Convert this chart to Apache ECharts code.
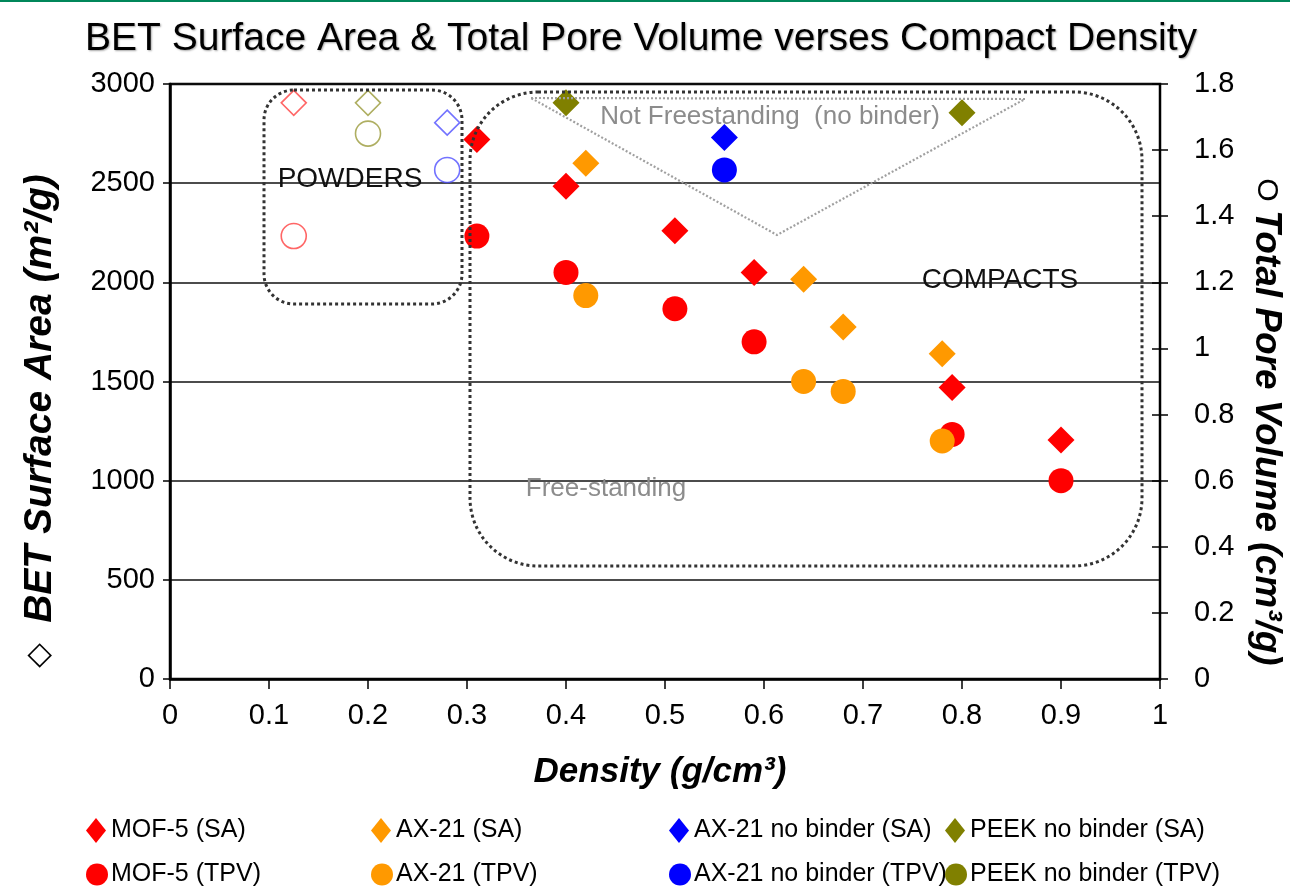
<!DOCTYPE html>
<html><head><meta charset="utf-8">
<script src="https://cdn.jsdelivr.net/npm/echarts@6/dist/echarts.min.js"></script>
<style>html,body{margin:0;padding:0;background:#fff}#c{width:1290px;height:889px}</style>
</head><body><div id="c"></div>
<script>
// ---- data ----
const titleText = 'BET Surface Area & Total Pore Volume verses Compact Density';

const mof5Density = [0.31, 0.40, 0.51, 0.59, 0.79, 0.90];
const mof5SA      = [2720, 2485, 2260, 2050, 1470, 1205];
const mof5TPV     = [1.34, 1.23, 1.12, 1.02, 0.74, 0.60];

const ax21Density = [0.42, 0.64, 0.68, 0.78];
const ax21SA      = [2600, 2015, 1775, 1640];
const ax21TPV     = [1.16, 0.90, 0.87, 0.72];

const ax21NbDensity = [0.56];
const ax21NbSA      = [2730];
const ax21NbTPV     = [1.54];

const peekNbDensity = [0.40, 0.80];
const peekNbSA      = [2905, 2855];
const peekNbTPVDensity = [];
const peekNbTPV     = [];

// powders (hollow markers)
const powderDensity = [0.125, 0.20, 0.28];
const powderSA      = [2905, 2905, 2805];
const powderTPV     = [1.34, 1.65, 1.54];

const legendNames = [
  ['MOF-5 (SA)', 'MOF-5 (TPV)'],
  ['AX-21 (SA)', 'AX-21 (TPV)'],
  ['AX-21 no binder (SA)', 'AX-21 no binder (TPV)'],
  ['PEEK no binder (SA)', 'PEEK no binder (TPV)']
];
const seriesColors = ['#ff0000', '#ff9900', '#0000ff', '#808000'];
const powderStroke = ['#ff4040', '#9a9a3a', '#5050ff'];

// ---- build ----
const zip = (xs, ys) => xs.map((x, i) => [x, ys[i]]);
const FONT = '"Liberation Sans", Arial, sans-serif';

function sa(name, xs, ys, color) {
  return { name, type: 'scatter', yAxisIndex: 0, symbol: 'diamond', symbolSize: 27,
    itemStyle: { color, opacity: 1 }, data: zip(xs, ys), z: 3 };
}
function tpv(name, xs, ys, color) {
  return { name, type: 'scatter', yAxisIndex: 1, symbol: 'circle', symbolSize: 25,
    itemStyle: { color, opacity: 1 }, data: zip(xs, ys), z: 3 };
}

const series = [
  sa(legendNames[0][0], mof5Density, mof5SA, seriesColors[0]),
  tpv(legendNames[0][1], mof5Density, mof5TPV, seriesColors[0]),
  sa(legendNames[1][0], ax21Density, ax21SA, seriesColors[1]),
  tpv(legendNames[1][1], ax21Density, ax21TPV, seriesColors[1]),
  sa(legendNames[2][0], ax21NbDensity, ax21NbSA, seriesColors[2]),
  tpv(legendNames[2][1], ax21NbDensity, ax21NbTPV, seriesColors[2]),
  sa(legendNames[3][0], peekNbDensity, peekNbSA, seriesColors[3]),
  tpv(legendNames[3][1], peekNbTPVDensity, peekNbTPV, seriesColors[3])
];
powderDensity.forEach((d, i) => {
  series.push({ name: 'powder SA ' + i, type: 'scatter', yAxisIndex: 0, symbol: 'diamond', symbolSize: 25,
    itemStyle: { color: 'rgba(255,255,255,0)', borderColor: powderStroke[i], borderWidth: 1.6 },
    data: [[d, powderSA[i]]], z: 3 });
  series.push({ name: 'powder TPV ' + i, type: 'scatter', yAxisIndex: 1, symbol: 'circle', symbolSize: 25,
    itemStyle: { color: 'rgba(255,255,255,0)', borderColor: powderStroke[i], borderWidth: 1.6 },
    data: [[d, powderTPV[i]]], z: 3 });
});

const legendLefts = [86, 371, 669, 945];
const legendTops = [818, 862];
const legends = [];
legendNames.forEach((names, i) => {
  names.forEach((nm, r) => {
    legends.push({
      data: [{ name: nm, icon: r === 0 ? 'diamond' : 'circle' }],
      left: legendLefts[i], top: legendTops[r],
      itemWidth: r === 0 ? 20 : 22, itemHeight: r === 0 ? 25 : 22, padding: 0,
      textStyle: { fontFamily: FONT, fontSize: 25, color: '#000', padding: [0, 0, 0, r === 0 ? 0 : -2] }
    });
  });
});

const chart = echarts.init(document.getElementById('c'), null, { renderer: 'canvas' });
const axisLine = (w) => ({ show: true, lineStyle: { color: '#000', width: w } });
const labelStyle = { fontFamily: FONT, fontSize: 29, color: '#000' };

chart.setOption({
  backgroundColor: '#fff',
  animation: false,
  title: { text: titleText, left: 80, top: 15,
    textStyle: { fontFamily: FONT, fontSize: 39, fontWeight: 'normal', color: '#000',
      textShadowColor: 'rgba(0,0,0,0.35)', textShadowBlur: 2, textShadowOffsetX: 1, textShadowOffsetY: 1 } },
  legend: legends,
  grid: { left: 170, right: 130, top: 84, bottom: 210, show: true, borderColor: '#000', borderWidth: 2.5 },
  xAxis: { type: 'value', min: 0, max: 1, interval: 0.1,
    axisLine: axisLine(2.5), axisTick: { show: true, length: 10, lineStyle: { color: '#000', width: 1.5 } },
    axisLabel: Object.assign({ margin: 22, formatter: v => String(+v.toFixed(1)) }, labelStyle),
    splitLine: { show: false } },
  yAxis: [
    { type: 'value', min: 0, max: 3000, interval: 500, position: 'left',
      axisLine: axisLine(2.5), axisTick: { show: true, length: 7, lineStyle: { color: '#000', width: 1.5 } },
      axisLabel: Object.assign({ margin: 15, formatter: v => String(v) }, labelStyle),
      splitLine: { show: true, lineStyle: { color: '#111', width: 1.5 } } },
    { type: 'value', min: 0, max: 1.8, interval: 0.2, position: 'right',
      axisLine: axisLine(1.5), axisTick: { show: true, length: 8, lineStyle: { color: '#000', width: 1.5 } },
      axisLabel: Object.assign({ margin: 34, formatter: v => String(+v.toFixed(1)) }, labelStyle),
      splitLine: { show: false } },
    { type: 'value', min: 0, max: 1.8, interval: 0.2, position: 'right',
      axisLine: axisLine(1.5), axisTick: { show: true, inside: true, length: 8, lineStyle: { color: '#000', width: 1.5 } },
      axisLabel: { show: false }, splitLine: { show: false } }
  ],
  series,
  graphic: [
    { type: 'rect', shape: { x: 0, y: 0, width: 1290, height: 2 }, style: { fill: '#00875a' }, z: 100 },
    // POWDERS box
    { type: 'rect', shape: { x: 264, y: 90, width: 198, height: 214, r: 30 },
      style: { fill: null, stroke: '#333', lineWidth: 3, lineDash: [3, 3] }, z: 100 },
    // COMPACTS box
    { type: 'rect', shape: { x: 470, y: 92, width: 672, height: 474, r: 68 },
      style: { fill: null, stroke: '#333', lineWidth: 3, lineDash: [3, 3] }, z: 100 },
    // not freestanding triangle
    { type: 'polygon', shape: { points: [[531, 98], [1025, 99], [777, 235]] },
      style: { fill: null, stroke: '#a0a0a0', lineWidth: 2.2, lineDash: [2, 2] }, z: 100 },
    { type: 'text', x: 770, y: 117, z: 101,
      style: { text: 'Not Freestanding  (no binder)', font: '26px ' + FONT, fill: '#8c8c8c', align: 'center', verticalAlign: 'middle' } },
    { type: 'text', x: 350, y: 179, z: 101,
      style: { text: 'POWDERS', font: '28px ' + FONT, fill: '#111', align: 'center', verticalAlign: 'middle' } },
    { type: 'text', x: 1000, y: 280, z: 101,
      style: { text: 'COMPACTS', font: '28px ' + FONT, fill: '#111', align: 'center', verticalAlign: 'middle' } },
    { type: 'text', x: 606, y: 489, z: 101,
      style: { text: 'Free-standing', font: '26px ' + FONT, fill: '#8c8c8c', align: 'center', verticalAlign: 'middle' } },
    // axis names
    { type: 'text', x: 660, y: 772, z: 101,
      style: { text: '{b|Density (g/cm³)}', align: 'center', verticalAlign: 'middle',
        rich: { b: { fontFamily: FONT, fontSize: 35, fontWeight: 'bold', fontStyle: 'italic', fill: '#000' } } } },
    { type: 'text', x: 40, y: 421, rotation: Math.PI / 2, z: 101,
      style: { text: '{s|◇  }{b|BET Surface Area (m²/g)}', align: 'center', verticalAlign: 'middle',
        rich: { s: { fontFamily: '"DejaVu Sans", sans-serif', fontSize: 32, fill: '#000' },
                b: { fontFamily: FONT, fontSize: 39, fontWeight: 'bold', fontStyle: 'italic', fill: '#000' } } } },
    { type: 'text', x: 1266, y: 422, rotation: -Math.PI / 2, z: 101,
      style: { text: '{s|O }{b|Total Pore Volume (cm³/g)}', align: 'center', verticalAlign: 'middle',
        rich: { s: { fontFamily: FONT, fontSize: 30, fill: '#000' },
                b: { fontFamily: FONT, fontSize: 37, fontWeight: 'bold', fontStyle: 'italic', fill: '#000' } } } }
  ]
});
</script>
</body></html>
